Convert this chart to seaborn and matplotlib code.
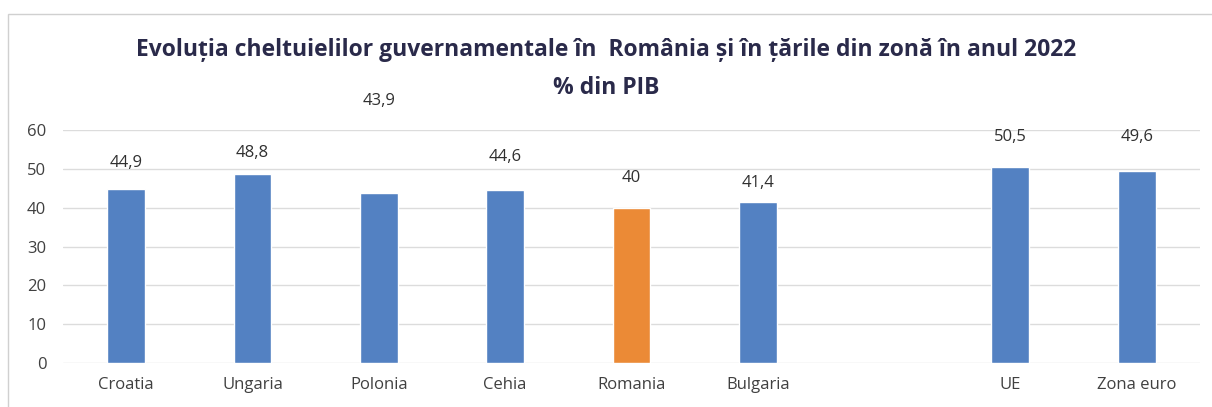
import matplotlib
matplotlib.use("Agg")
import matplotlib.pyplot as plt
import matplotlib.patches as mpatches
import pandas as pd
import seaborn as sns

# values (% din PIB, 2022)
tari = ["Croatia", "Ungaria", "Polonia", "Cehia", "Romania", "Bulgaria", "UE", "Zona euro"]
cheltuieli = [44.9, 48.8, 43.9, 44.6, 40.0, 41.4, 50.5, 49.6]
etichete = ["44,9", "48,8", "43,9", "44,6", "40", "41,4", "50,5", "49,6"]
# heights where the data labels sit in the original chart (moved by hand there)
pozitie_eticheta = [51.5, 54.1, 67.5, 53.1, 47.7, 46.4, 58.2, 58.2]
ordine = ["Croatia", "Ungaria", "Polonia", "Cehia", "Romania", "Bulgaria", " ", "UE", "Zona euro"]

ALBASTRU = "#5381c2"
PORTOCALIU = "#eb8a36"

df = pd.DataFrame({"tara": tari, "valoare": cheltuieli})
culori = {t: (PORTOCALIU if t == "Romania" else ALBASTRU) for t in ordine}

sns.set_style("white")
plt.rcParams["font.family"] = ["Open Sans", "DejaVu Sans"]

fig = plt.figure(figsize=(12.12, 4.07), dpi=100)
ax = fig.add_axes([0.052, 0.108, 0.938, 0.572])

sns.barplot(data=df, x="tara", y="valoare", hue="tara", order=ordine,
            palette=culori, width=0.3, legend=False, saturation=1, ax=ax)

ax.set_xlim(-0.5, len(ordine) - 0.5)
ax.set_ylim(0, 60)
ax.set_yticks(range(0, 61, 10))
ax.yaxis.grid(True, color="#dcdcdc", linewidth=1)
ax.set_axisbelow(True)
for s in ax.spines.values():
    s.set_visible(False)
ax.set_xlabel("")
ax.set_ylabel("")
ax.tick_params(axis="both", length=0, labelsize=12, colors="#404040")
ax.tick_params(axis="x", pad=10)
ax.tick_params(axis="y", pad=12)

for t, lab, yp in zip(tari, etichete, pozitie_eticheta):
    ax.text(ordine.index(t), yp, lab, ha="center", va="center",
            fontsize=12, color="#303030", clip_on=False)

fig.text(0.5, 0.876, "Evoluția cheltuielilor guvernamentale în  România și în țările din zonă în anul 2022",
         ha="center", va="center", fontsize=16.5, fontweight="bold", color="#2a2a4a")
fig.text(0.5, 0.785, "% din PIB", ha="center", va="center",
         fontsize=16.5, fontweight="bold", color="#2a2a4a")

fig.add_artist(mpatches.Rectangle((0.007, -0.05), 1.1, 1.016, transform=fig.transFigure,
                                  fill=False, edgecolor="#d0d0d0", linewidth=1))

fig.savefig("out.png", dpi=100)
